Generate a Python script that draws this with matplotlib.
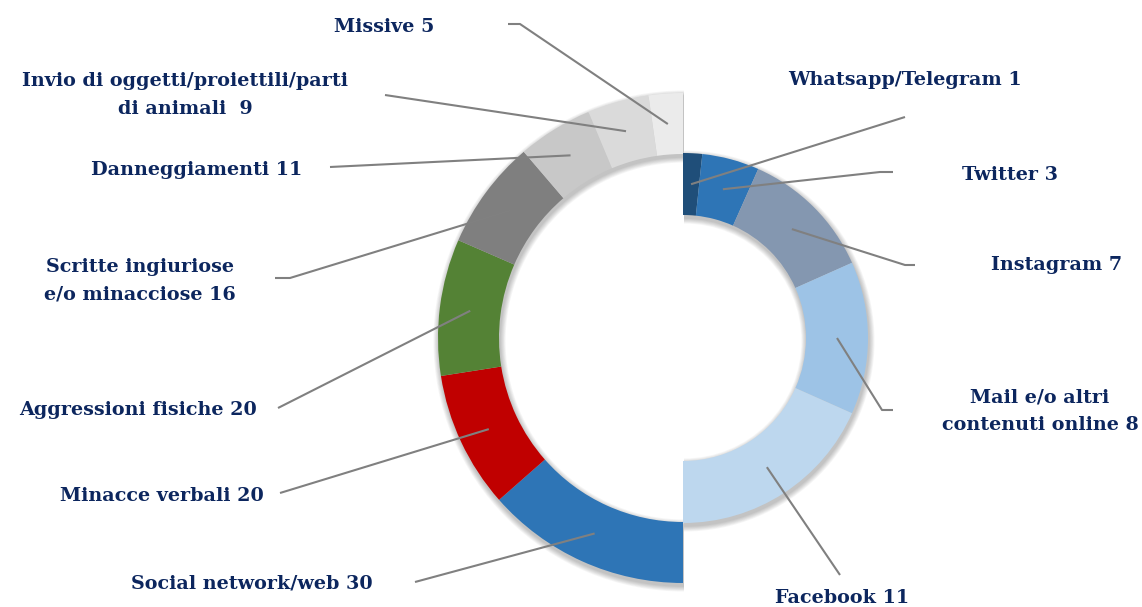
import matplotlib
matplotlib.use("Agg")
import matplotlib.pyplot as plt
from matplotlib.patches import Wedge
import numpy as np

# breakdown of the "Social network/web" slice (right half, inner ring)
web_labels = ["Whatsapp/Telegram 1", "Twitter 3", "Instagram 7",
              "Mail e/o altri\ncontenuti online 8", "Facebook 11"]
web_values = [1, 3, 7, 8, 11]
web_colors = ["#1f4e79", "#2e75b6", "#8497b0", "#9dc3e6", "#bdd7ee"]

# main categories (left half, outer ring), clockwise from bottom
cat_labels = ["Social network/web 30", "Minacce verbali 20", "Aggressioni fisiche 20",
              "Scritte ingiuriose\ne/o minacciose 16", "Danneggiamenti 11",
              "Invio di oggetti/proiettili/parti\ndi animali  9", "Missive 5"]
cat_values = [30, 20, 20, 16, 11, 9, 5]
cat_colors = ["#2e75b6", "#c00000", "#548235", "#7f7f7f", "#c8c8c8", "#dadada", "#ebebeb"]

W, H = 1142, 607
TXT = "#0c265e"
LINE = "#808080"


def P(x, y):
    # image pixel coords -> data coords (y up)
    return x, H - y


# label placement (image pixels): text centre, leader-line elbow points
web_layout = [
    ((905, 80), [(905, 117)]),
    ((1010, 175), [(893, 172), (880, 172)]),
    ((1057, 265), [(915, 265), (905, 265)]),
    ((1040, 411), [(893, 410), (882, 410)]),
    ((842, 598), [(840, 575)]),
]
cat_layout = [
    ((252, 584), [(415, 582)]),
    ((162, 496), [(280, 493)]),
    ((138, 410), [(278, 408)]),
    ((140, 281), [(275, 278), (290, 278)]),
    ((197, 170), [(330, 167)]),
    ((185, 95), [(385, 95)]),
    ((384, 27), [(508, 24), (520, 24)]),
]

fig = plt.figure(figsize=(W / 100, H / 100), dpi=100)
ax = fig.add_axes([0, 0, 1, 1])

center = P(683, 338)

# outer ring: invisible right half + left half categories
outer, _ = ax.pie([sum(cat_values)] + cat_values, colors=["none"] + cat_colors,
                  startangle=90, counterclock=False, radius=245, center=center,
                  wedgeprops=dict(width=61, linewidth=0, zorder=3), frame=True)
outer = outer[1:]
# inner ring: right half breakdown + invisible left half
inner, _ = ax.pie(web_values + [sum(web_values)], colors=web_colors + ["none"],
                  startangle=90, counterclock=False, radius=185, center=center,
                  wedgeprops=dict(width=62, linewidth=0, zorder=3), frame=True)
inner = inner[:-1]

# soft drop shadow under each half ring
for ring in (outer, inner):
    t1 = min(w.theta1 for w in ring)
    t2 = max(w.theta2 for w in ring)
    r, wd = ring[0].r, ring[0].width
    cx, cy = ring[0].center
    for k in range(1, 8):
        ax.add_patch(Wedge((cx + 1, cy - 3), r + k * 0.8, t1, t2, width=wd + k * 1.6,
                           facecolor="black", edgecolor="none", alpha=0.035, zorder=2))

ax.set_xlim(0, W)
ax.set_ylim(0, H)
ax.set_aspect("equal")
ax.axis("off")


def annotate(wedges, labels, layout):
    for w, lab, (tpos, elbows) in zip(wedges, labels, layout):
        ang = np.deg2rad((w.theta1 + w.theta2) / 2)
        rm = w.r - w.width / 2
        sx = w.center[0] + rm * np.cos(ang)
        sy = w.center[1] + rm * np.sin(ang)
        pts = [P(*e) for e in elbows]
        xs = [sx] + [p[0] for p in reversed(pts)]
        ys = [sy] + [p[1] for p in reversed(pts)]
        ax.plot(xs, ys, color=LINE, lw=1.5, zorder=5, solid_capstyle="butt")
        tx, ty = P(*tpos)
        ax.text(tx, ty, lab, ha="center", va="center", color=TXT, fontsize=13.8,
                fontweight="bold", family=["DejaVu Serif"], linespacing=1.7)


annotate(inner, web_labels, web_layout)
annotate(outer, cat_labels, cat_layout)

fig.savefig("out.png", dpi=100, facecolor="white")
